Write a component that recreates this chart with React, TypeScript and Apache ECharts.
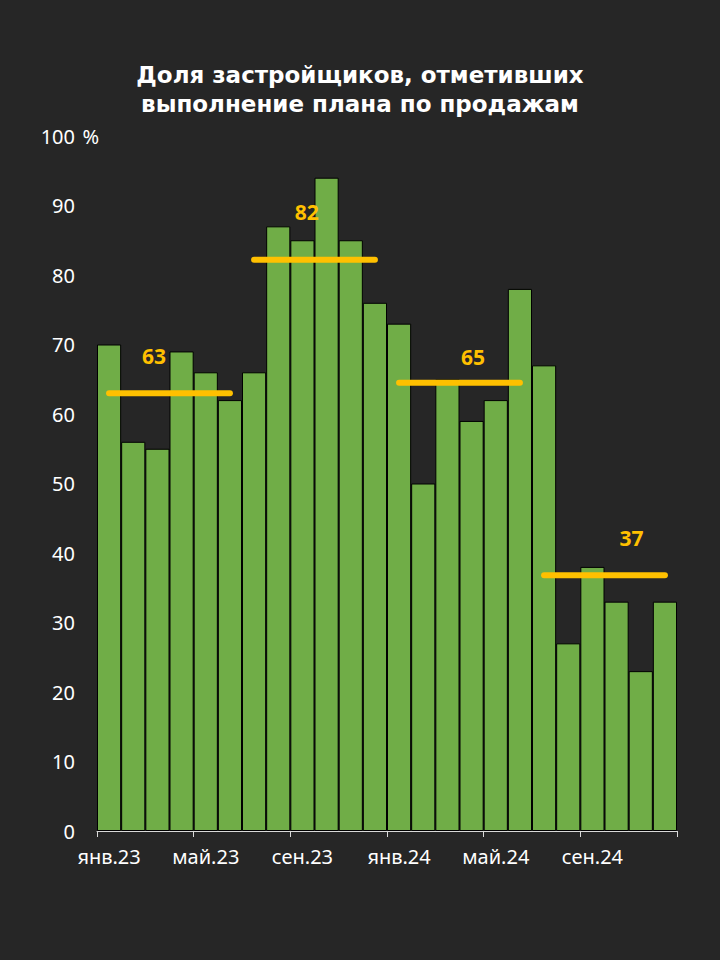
import React, { useEffect, useRef } from "react";
import * as echarts from "echarts";

const months: string[] = [
  "янв.23", "фев.23", "мар.23", "апр.23", "май.23", "июн.23",
  "июл.23", "авг.23", "сен.23", "окт.23", "ноя.23", "дек.23",
  "янв.24", "фев.24", "мар.24", "апр.24", "май.24", "июн.24",
  "июл.24", "авг.24", "сен.24", "окт.24", "ноя.24", "дек.24",
];

const shares: number[] = [
  70, 56, 55, 69, 66, 62,
  66, 87, 85, 94, 85, 76,
  73, 50, 65, 59, 62, 78,
  67, 27, 38, 33, 23, 33,
];

// half-year averages: first bar index, last bar index, value, label
const avgFrom: number[] = [0, 6, 12, 18];
const avgTo: number[] = [5, 11, 17, 23];
const avgValues: number[] = [63, 82.2, 64.5, 36.8];
const avgLabels: string[] = ["63", "82", "65", "37"];
// where each average's label sits, in axis units (bar slots, percent)
const avgLabelX: number[] = [2.36, 8.68, 15.56, 22.12];
const avgLabelY: number[] = [68.3, 89.0, 68.2, 42.2];

const yTicks: number[] = [0, 10, 20, 30, 40, 50, 60, 70, 80, 90, 100];

const titleLines: string[] = [
  "Доля застройщиков, отметивших",
  "выполнение плана по продажам",
];

const FONT = "'Noto Sans', 'DejaVu Sans', sans-serif";
const TITLE_FONT = "'DejaVu Sans', sans-serif";
const YELLOW = "#ffc000";

export default function App() {
  const ref = useRef<HTMLDivElement>(null);

  useEffect(() => {
    if (!ref.current) return;
    const chart = echarts.init(ref.current, undefined, { renderer: "svg" });

    const lineSeries = avgValues.map((v, i) => ({
      type: "line" as const,
      xAxisIndex: 1,
      data: [
        [avgFrom[i] + 0.5, v],
        [avgTo[i] + 0.5, v],
      ],
      symbol: "none",
      lineStyle: { color: YELLOW, width: 6, cap: "round" },
      z: 5,
      silent: true,
    }));

    chart.setOption({
      animation: false,
      backgroundColor: "#262626",
      textStyle: { fontFamily: FONT },
      title: titleLines.map((t, i) => ({
        text: t,
        left: "center",
        top: 63 + i * 29,
        padding: 0,
        textStyle: {
          color: "#ffffff",
          fontSize: 23,
          fontWeight: "bold",
          lineHeight: 23,
          fontFamily: TITLE_FONT,
        },
      })),
      grid: { left: 97, right: 43, top: 136, bottom: 129, containLabel: false },
      xAxis: [
        {
          type: "category",
          data: months,
          boundaryGap: true,
          axisLine: { show: true, lineStyle: { color: "#d9d9d9", width: 1 } },
          axisTick: {
            show: true,
            interval: (index: number) => index % 4 === 0,
            length: 6,
            lineStyle: { color: "#d9d9d9" },
          },
          axisLabel: {
            interval: 3,
            color: "#ffffff",
            fontSize: 20,
            fontFamily: FONT,
            margin: 15,
          },
          splitLine: { show: false },
        },
        {
          type: "value",
          min: 0,
          max: 24,
          show: false,
        },
      ],
      yAxis: {
        type: "value",
        min: yTicks[0],
        max: yTicks[yTicks.length - 1],
        interval: 10,
        name: "%",
        nameLocation: "end",
        nameGap: 0,
        nameTextStyle: {
          color: "#ffffff",
          fontSize: 20,
          fontFamily: FONT,
          align: "right",
          verticalAlign: "middle",
          padding: [0, -2, 0, 0],
        },
        axisLine: { show: false },
        axisTick: { show: false },
        splitLine: { show: false },
        axisLabel: {
          color: "#ffffff",
          fontSize: 20,
          fontFamily: FONT,
          margin: 22,
        },
      },
      series: [
        {
          type: "bar",
          data: shares,
          barCategoryGap: "0%",
          itemStyle: { color: "#70ad47", borderColor: "#000000", borderWidth: 1 },
          z: 2,
        },
        ...lineSeries,
        {
          type: "scatter",
          xAxisIndex: 1,
          data: avgLabels.map((t, i) => [avgLabelX[i], avgLabelY[i], t]),
          symbolSize: 0,
          itemStyle: { opacity: 1 },
          z: 6,
          silent: true,
          label: {
            show: true,
            position: "inside",
            formatter: (p: any) => p.data[2],
            color: YELLOW,
            opacity: 1,
            textBorderWidth: 0,
            textBorderColor: "transparent",
            fontSize: 21,
            fontWeight: "bold",
            fontFamily: FONT,
          },
        },
      ],
    });

    return () => chart.dispose();
  }, []);

  return (
    <div
      ref={ref}
      style={{ position: "fixed", left: 0, top: 0, width: 720, height: 960 }}
    />
  );
}
